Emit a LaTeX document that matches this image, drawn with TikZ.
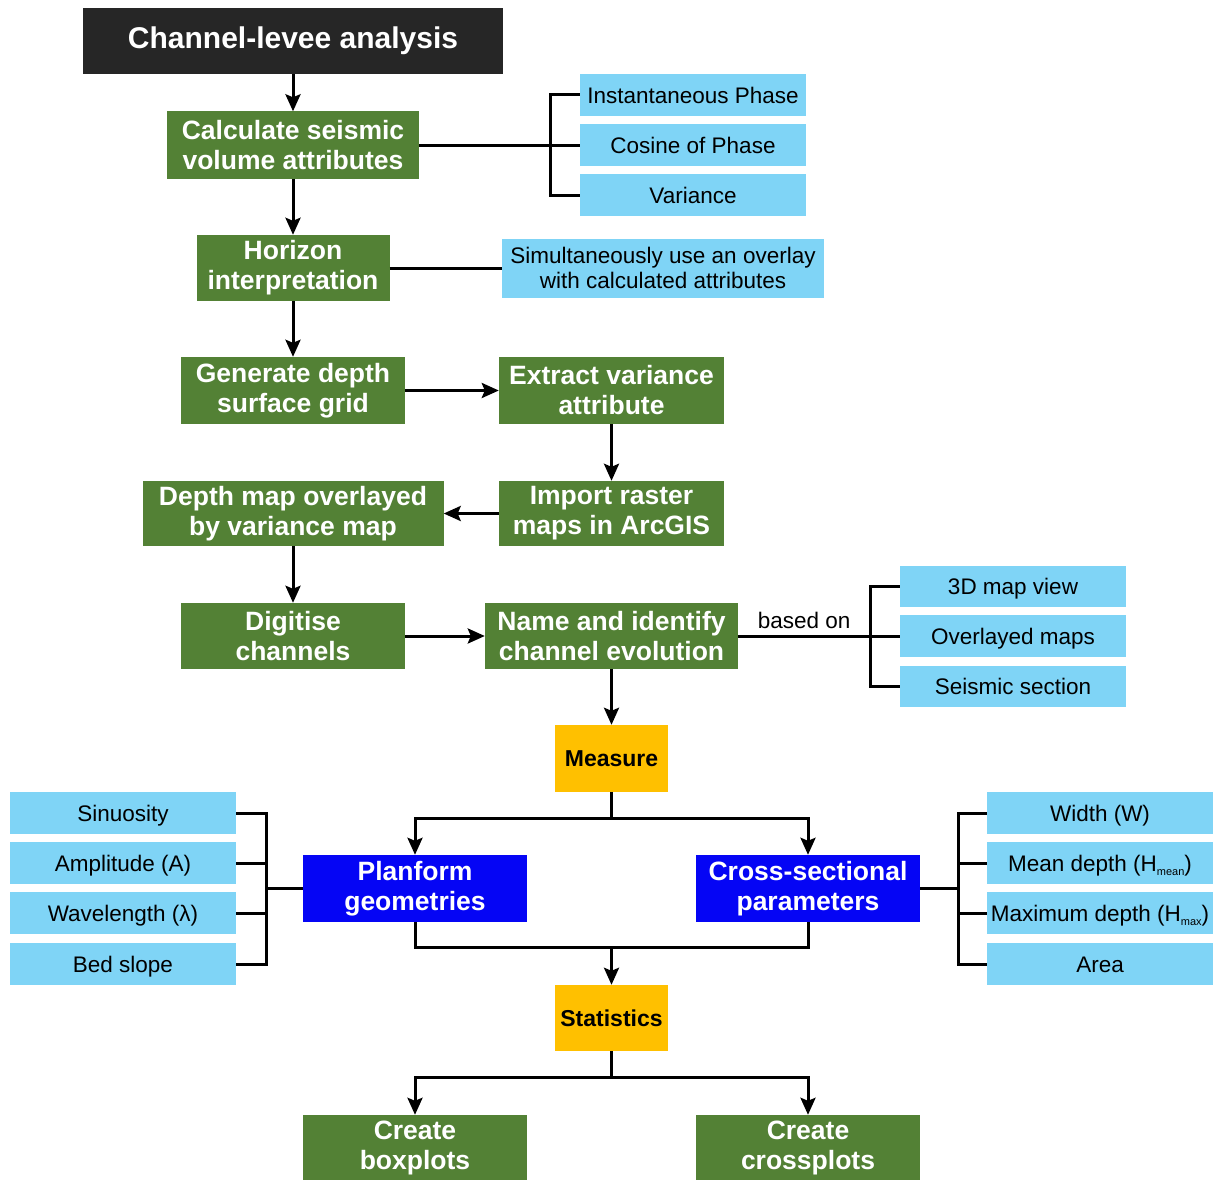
\documentclass[tikz,border=0pt]{standalone}
\usepackage{fontspec}
\setmainfont{Liberation Sans}
\usetikzlibrary{arrows.meta}
\definecolor{cblack}{HTML}{262626}
\definecolor{cgreen}{HTML}{538135}
\definecolor{clblue}{HTML}{7FD4F6}
\definecolor{cblue}{HTML}{0505F5}
\definecolor{corange}{HTML}{FFC000}
\tikzset{
  base/.style={inner sep=0pt, align=center, anchor=center},
  titlebox/.style={base, fill=cblack, text=white, font=\fontsize{30}{34}\selectfont\bfseries},
  greenbox/.style={base, fill=cgreen, text=white, font=\fontsize{26.5}{30}\selectfont\bfseries},
  bluebox/.style={base, fill=cblue, text=white, font=\fontsize{26.5}{30}\selectfont\bfseries},
  orangebox/.style={base, fill=corange, text=black, font=\fontsize{23}{27}\selectfont\bfseries},
  lbox/.style={base, fill=clblue, text=black, font=\fontsize{22.5}{25}\selectfont},
  lone/.style={lbox, minimum width=226, minimum height=42, text height=18.5pt, text depth=2pt},
  conn/.style={line width=3pt, draw=black},
  arr/.style={conn, -{Stealth[length=17pt,width=15pt,inset=3pt]}},
}
\newcommand{\subtxt}[1]{\raisebox{-4pt}{\fontsize{11}{11}\selectfont #1}}
\begin{document}
\begin{tikzpicture}[x=1pt,y=-1pt]
\useasboundingbox (0,0) rectangle (1217,1180);
% main chain
\node[titlebox, minimum width=420, minimum height=66] (title) at (293,41) {Channel-levee analysis};
\node[greenbox, minimum width=252, minimum height=67] (calc) at (293,145) {Calculate seismic\\volume attributes};
\node[lone] (ip) at (693,95) {Instantaneous Phase};
\node[lone] (cos) at (693,145) {Cosine of Phase};
\node[lone] (var) at (693,195) {Variance};
\node[greenbox, minimum width=193, minimum height=66] (hor) at (293,268) {Horizon\\interpretation};
\node[lbox, minimum width=322, minimum height=59] (sim) at (663,268) {Simultaneously use an overlay\\with calculated attributes};
\node[greenbox, minimum width=224, minimum height=67] (gen) at (293,390.5) {Generate depth\\surface grid};
\node[greenbox, minimum width=225, minimum height=67] (ext) at (611.5,390.5) {Extract variance\\attribute};
\node[greenbox, minimum width=225, minimum height=65] (imp) at (611.5,513.5) {Import raster\\maps in ArcGIS};
\node[greenbox, minimum width=301, minimum height=65] (dmap) at (293,513.5) {Depth map overlayed\\by variance map};
\node[greenbox, minimum width=224, minimum height=66] (dig) at (293,636) {Digitise\\channels};
\node[greenbox, minimum width=253, minimum height=66] (name) at (611.5,636) {Name and identify\\channel evolution};
\node[lone, minimum height=41] (tdv) at (1013,586) {3D map view};
\node[lone] (ovl) at (1013,636) {Overlayed maps};
\node[lone, minimum height=41] (seis) at (1013,686) {Seismic section};
\node[orangebox, minimum width=113, minimum height=67] (meas) at (611.5,758.5) {Measure};
\node[bluebox, minimum width=224, minimum height=67] (plan) at (415,888.5) {Planform\\geometries};
\node[bluebox, minimum width=224, minimum height=67] (cross) at (808,888.5) {Cross-sectional\\parameters};
\node[lone] (sin) at (123,813) {Sinuosity};
\node[lone] (amp) at (123,863) {Amplitude (A)};
\node[lone] (wav) at (123,913) {Wavelength (λ)};
\node[lone] (bed) at (123,964) {Bed slope};
\node[lone] (wid) at (1100,813) {Width (W)};
\node[lone] (mean) at (1100,863) {Mean depth (H\subtxt{mean})};
\node[lone] (maxd) at (1100,913) {Maximum depth (H\subtxt{max})};
\node[lone] (area) at (1100,964) {Area};
\node[orangebox, minimum width=113, minimum height=66] (stat) at (611.5,1018) {Statistics};
\node[greenbox, minimum width=224, minimum height=65] (boxp) at (415,1147.5) {Create\\boxplots};
\node[greenbox, minimum width=224, minimum height=65] (crossp) at (808,1147.5) {Create\\crossplots};
% junction coordinates
\coordinate (b1) at (550,145);
\coordinate (b2) at (870,636);
\coordinate (m1) at (611.5,818);
\coordinate (s1) at (611.5,947);
\coordinate (s2) at (611.5,1077);
\coordinate (lb) at (266,888.5);
\coordinate (rb) at (958,888.5);
% arrows
\draw[arr] (title) -- (calc);
\draw[arr] (calc) -- (hor);
\draw[arr] (hor) -- (gen);
\draw[arr] (gen) -- (ext);
\draw[arr] (ext) -- (imp);
\draw[arr] (imp) -- (dmap);
\draw[arr] (dmap) -- (dig);
\draw[arr] (dig) -- (name);
\draw[arr] (name) -- (meas);
% attribute bracket
\draw[conn] (calc.east) -- (cos.west);
\draw[conn] (ip.west) -| (b1) |- (var.west);
\draw[conn] (hor.east) -- (sim.west);
% based on bracket
\draw[conn] (name.east) -- node[above=2pt, font=\fontsize{22.5}{25}\selectfont, text=black] {based on} (b2);
\draw[conn] (b2) -- (ovl.west);
\draw[conn] (tdv.west) -| (b2) |- (seis.west);
% measure split
\draw[conn] (meas.south) -- (m1);
\draw[arr] (m1) -| (plan.north);
\draw[arr] (m1) -| (cross.north);
% merge to statistics
\draw[conn] (plan.south) |- (s1) -| (cross.south);
\draw[arr] (s1) -- (stat.north);
% statistics split
\draw[conn] (stat.south) -- (s2);
\draw[arr] (s2) -| (boxp.north);
\draw[arr] (s2) -| (crossp.north);
% left bracket
\draw[conn] (sin.east) -| (lb) |- (bed.east);
\draw[conn] (amp.east) -- (amp.east -| lb);
\draw[conn] (wav.east) -- (wav.east -| lb);
\draw[conn] (plan.west) -- (lb);
% right bracket
\draw[conn] (wid.west) -| (rb) |- (area.west);
\draw[conn] (mean.west) -- (mean.west -| rb);
\draw[conn] (maxd.west) -- (maxd.west -| rb);
\draw[conn] (cross.east) -- (rb);
\end{tikzpicture}
\end{document}
